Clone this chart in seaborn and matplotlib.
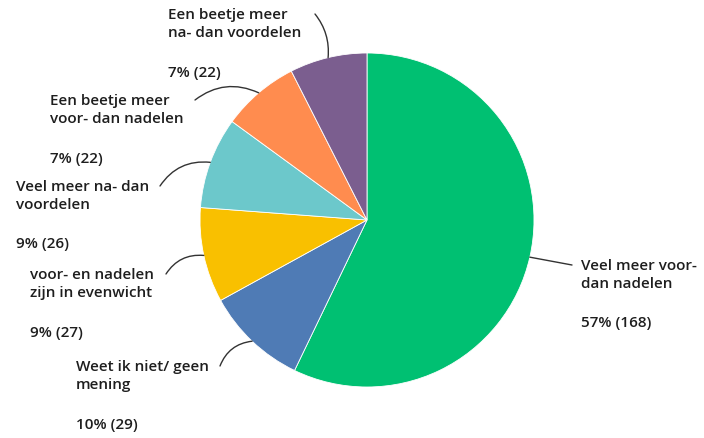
import numpy as np
import seaborn as sns
import matplotlib.pyplot as plt

# data (clockwise from 12 o'clock)
labels = ['Veel meer voor-\ndan nadelen',
          'Weet ik niet/ geen\nmening',
          'voor- en nadelen\nzijn in evenwicht',
          'Veel meer na- dan\nvoordelen',
          'Een beetje meer\nvoor- dan nadelen',
          'Een beetje meer\nna- dan voordelen']
counts = [168, 29, 27, 26, 22, 22]
colors = ['#00C072', '#4F7BB5', '#F9C000', '#6CC8CB', '#FF8C4F', '#7B5E8F']

sns.set_theme(style='white')
plt.rcParams['font.family'] = ['Open Sans', 'DejaVu Sans']

fig = plt.figure(figsize=(7.04, 4.38), dpi=100)
ax = fig.add_axes([0, 0, 1, 1])

H = 438
cx, cy, r = 367, H - 220, 167
wedges, _ = ax.pie(counts, colors=colors, startangle=90, counterclock=False,
                   center=(cx, cy), radius=r, frame=True,
                   wedgeprops=dict(linewidth=0.6, edgecolor='white'))
ax.set_xlim(0, 704)
ax.set_ylim(0, 438)
ax.set_aspect('equal')
ax.axis('off')

total = sum(counts)
# text positions in pixels: (x, first line y, percent y, line end x, rad)
layout = [
    (581, 265, 323, 572, 0.0),
    (76, 366, 425, 220, -0.3),
    (30, 274, 333, 166, -0.3),
    (16, 186, 244, 160, -0.3),
    (50, 100, 159, 195, -0.3),
    (168, 14, 73, 315, -0.2),
]
txtc = '#1e1e1e'
fs = 11
for w, lab, n, (tx, ty, py, lx, rad) in zip(wedges, labels, counts, layout):
    ang = np.deg2rad((w.theta1 + w.theta2) / 2)
    ex = cx + r * np.cos(ang)
    ey = cy + r * np.sin(ang)
    ax.text(tx, H - ty + 6, lab, ha='left', va='top', fontsize=fs,
            fontweight='semibold', color=txtc, linespacing=1.32)
    pct = round(100 * n / total)
    ax.text(tx, H - py, f'{pct}% ({n})', ha='left', va='center', fontsize=fs,
            fontweight='semibold', color=txtc)
    ax.annotate('', xy=(ex, ey), xytext=(lx, H - ty),
                arrowprops=dict(arrowstyle='-', color='#333333', lw=1,
                                connectionstyle=f'arc3,rad={rad}',
                                shrinkA=0, shrinkB=0))

fig.savefig('out.png', dpi=100)
